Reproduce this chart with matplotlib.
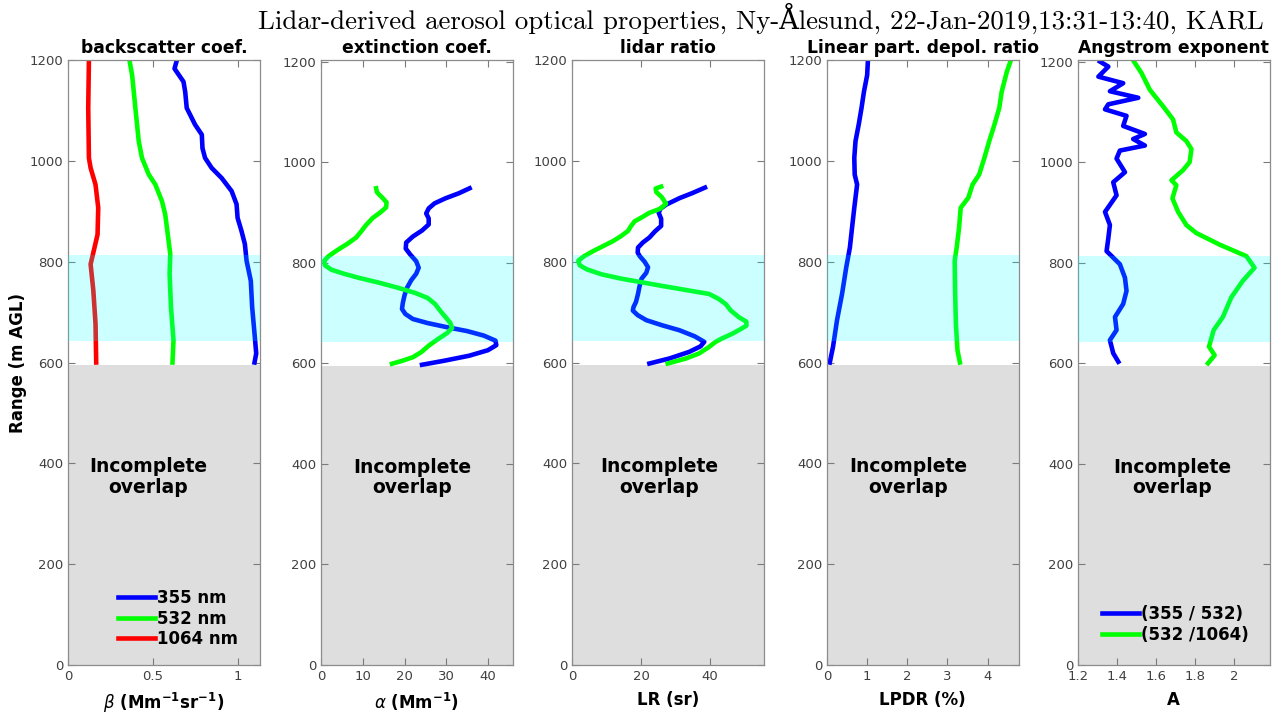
#!/usr/bin/env python3
"""Lidar profiles: backscatter, extinction, lidar ratio, depol, Angstrom."""
import matplotlib
matplotlib.use("Agg")
import matplotlib.pyplot as plt

# ---- backscatter coefficient (Mm-1 sr-1) vs range (m)
bsc_355_h = [1200, 1183, 1157, 1137, 1105, 1072, 1052, 1025, 1006, 986, 966, 940, 914, 887,
             861, 835, 802, 762, 710, 657, 618, 600]
bsc_355 = [0.642, 0.628, 0.681, 0.691, 0.70, 0.749, 0.789, 0.793, 0.808, 0.847, 0.906, 0.965,
           0.994, 1.0, 1.023, 1.043, 1.053, 1.078, 1.086, 1.10, 1.11, 1.10]
bsc_532_h = [1200, 1170, 1105, 1039, 1006, 973, 953, 920, 894, 868, 815, 776, 710, 644, 600]
bsc_532 = [0.362, 0.378, 0.397, 0.417, 0.436, 0.476, 0.515, 0.554, 0.573, 0.583, 0.603,
           0.599, 0.607, 0.622, 0.616]
bsc_1064_h = [1200, 1105, 1006, 986, 953, 907, 854, 815, 795, 743, 677, 600]
bsc_1064 = [0.123, 0.119, 0.123, 0.133, 0.162, 0.178, 0.174, 0.147, 0.133, 0.149, 0.162, 0.166]

# ---- extinction coefficient (Mm-1)
ext_355_h = [948, 938, 928, 918, 908, 898, 888, 876, 864, 852, 840, 828, 816, 803, 790, 778,
             765, 750, 735, 720, 708, 698, 688, 680, 672, 664, 655, 645, 636, 626, 615, 605, 597]
ext_355 = [35.6, 33.0, 29.8, 27.2, 25.8, 25.2, 25.8, 25.8, 24.2, 22.0, 20.4, 20.3, 21.4, 22.8,
           23.4, 22.8, 21.6, 20.6, 20.0, 19.6, 19.4, 20.2, 22.0, 25.5, 30.0, 35.0, 39.0, 41.8,
           42.0, 40.0, 35.5, 29.5, 24.2]
ext_532_h = [948, 940, 930, 920, 910, 900, 889, 875, 862, 850, 838, 825, 813, 804, 795, 786,
             778, 770, 760, 750, 740, 730, 718, 705, 690, 680, 670, 660, 648, 635, 622, 612,
             605, 599]
ext_532 = [13.2, 13.4, 14.6, 15.7, 15.6, 14.2, 12.4, 10.8, 9.6, 8.4, 6.4, 3.9, 1.8, 0.8, 0.9,
           2.5, 5.5, 9.0, 14.0, 18.5, 22.5, 25.5, 27.3, 28.5, 30.0, 31.0, 31.4, 30.2, 28.0,
           25.8, 24.0, 22.0, 19.5, 17.0]

# ---- lidar ratio (sr)
lr_355_h = [947, 936, 926, 913, 905, 897, 885, 871, 860, 848, 838, 828, 818, 811, 800, 789,
            778, 766, 750, 736, 720, 710, 703, 694, 684, 674, 664, 652, 641, 632, 621, 608, 598]
lr_355 = [38.5, 34.8, 31.1, 27.2, 25.6, 25.1, 25.8, 25.8, 24.0, 22.4, 20.5, 19.1, 19.0, 19.6,
          21.0, 22.0, 21.5, 20.1, 19.5, 19.1, 18.5, 17.8, 17.6, 19.0, 21.5, 26.0, 31.1, 35.5,
          38.3, 37.2, 33.9, 28.2, 22.4]
lr_532_h = [949, 945, 938, 928, 915, 905, 897, 888, 880, 870, 861, 850, 841, 831, 821, 811,
            802, 793, 785, 775, 766, 760, 752, 745, 736, 726, 716, 703, 690, 681, 673, 665,
            657, 648, 641, 630, 618, 608, 598]
lr_532 = [25.8, 24.2, 24.4, 26.0, 27.2, 25.5, 22.4, 20.2, 18.1, 17.0, 16.2, 14.0, 11.9, 9.0,
          6.1, 3.5, 1.8, 2.2, 4.2, 8.5, 14.5, 19.5, 26.0, 32.0, 39.7, 42.5, 44.5, 46.0, 48.3,
          50.5, 50.5, 48.5, 46.4, 43.5, 41.6, 39.5, 36.8, 33.0, 27.7]

# ---- linear particle depolarisation ratio (%)
lpdr_355_h = [1200, 1170, 1137, 1105, 1072, 1039, 1006, 973, 953, 907, 868, 828, 789, 736,
              684, 631, 600]
lpdr_355 = [1.02, 1.0, 0.92, 0.86, 0.79, 0.71, 0.68, 0.69, 0.75, 0.68, 0.625, 0.57, 0.48,
            0.375, 0.25, 0.15, 0.07]
lpdr_532_h = [1200, 1177, 1137, 1105, 1072, 1039, 1006, 973, 953, 927, 907, 868, 828, 802,
              743, 677, 624, 600]
lpdr_532 = [4.58, 4.48, 4.35, 4.29, 4.17, 4.04, 3.92, 3.79, 3.625, 3.52, 3.33, 3.29, 3.23,
            3.18, 3.19, 3.21, 3.25, 3.31]

# ---- Angstrom exponent
ae_355_532_h = [1200, 1190, 1170, 1157, 1141, 1128, 1115, 1105, 1092, 1072, 1056, 1046, 1033,
                1023, 1007, 980, 960, 934, 901, 875, 849, 823, 797, 770, 744, 718, 692, 666,
                646, 620, 603]
ae_355_532 = [1.312, 1.355, 1.304, 1.431, 1.363, 1.508, 1.355, 1.338, 1.448, 1.431, 1.542,
              1.482, 1.542, 1.414, 1.397, 1.440, 1.380, 1.397, 1.338, 1.363, 1.355, 1.346,
              1.414, 1.440, 1.448, 1.431, 1.389, 1.397, 1.363, 1.380, 1.406]
ae_532_1064_h = [1200, 1177, 1144, 1111, 1085, 1059, 1042, 1026, 1000, 984, 964, 954, 928, 901,
                 875, 859, 836, 813, 790, 764, 731, 692, 666, 633, 616, 600]
ae_532_1064 = [1.486, 1.525, 1.567, 1.635, 1.686, 1.703, 1.754, 1.780, 1.771, 1.737, 1.678,
               1.703, 1.683, 1.712, 1.754, 1.805, 1.924, 2.061, 2.103, 2.043, 1.984, 1.941,
               1.894, 1.870, 1.899, 1.865]

overlap_top = 595
band = (643, 813)

BLUE, GREEN, RED = "#0000ff", "#00ff00", "#ff0000"
LW = 3.3

fig = plt.figure(figsize=(12.77, 7.15), dpi=100)

panels = [
    dict(left=0.0533, title="backscatter coef.", xlim=(0, 1.13), ylim=(0, 1200),
         xticks=[0, 0.5, 1], xticklabels=["0", "0.5", "1"],
         xlabel=r"$\beta$ $\mathbf{(Mm^{-1}sr^{-1})}$",
         lines=[(bsc_355, bsc_355_h, BLUE, "355 nm"), (bsc_532, bsc_532_h, GREEN, "532 nm"),
                (bsc_1064, bsc_1064_h, RED, "1064 nm")],
         txt_x=0.42, leg=(0.26, 0.028)),
    dict(left=0.2514, title="extinction coef.", xlim=(0, 45.9), ylim=(8, 1203),
         xticks=[0, 10, 20, 30, 40], xticklabels=None, xlabel=r"$\alpha$ $\mathbf{(Mm^{-1})}$",
         lines=[(ext_355, ext_355_h, BLUE, None), (ext_532, ext_532_h, GREEN, None)],
         txt_x=0.475, leg=None),
    dict(left=0.448, title="lidar ratio", xlim=(0, 55.5), ylim=(0, 1200), xticks=[0, 20, 40],
         xticklabels=None, xlabel="LR (sr)",
         lines=[(lr_355, lr_355_h, BLUE, None), (lr_532, lr_532_h, GREEN, None)],
         txt_x=0.455, leg=None),
    dict(left=0.6476, title="Linear part. depol. ratio", xlim=(0, 4.77), ylim=(0, 1200),
         xticks=[0, 1, 2, 3, 4], xticklabels=None, xlabel="LPDR (%)",
         lines=[(lpdr_355, lpdr_355_h, BLUE, None), (lpdr_532, lpdr_532_h, GREEN, None)],
         txt_x=0.425, leg=None),
    dict(left=0.8442, title="Angstrom exponent", xlim=(1.2, 2.18), ylim=(8, 1203),
         xticks=[1.2, 1.4, 1.6, 1.8, 2.0], xticklabels=["1.2", "1.4", "1.6", "1.8", "2"],
         xlabel="A",
         lines=[(ae_355_532, ae_355_532_h, BLUE, "(355 / 532)"),
                (ae_532_1064, ae_532_1064_h, GREEN, "(532 /1064)")],
         txt_x=0.49, leg=(0.125, 0.035)),
]

for i, p in enumerate(panels):
    ax = fig.add_axes([p["left"], 0.070, 0.150, 0.846])
    ax.axhspan(0, overlap_top, color="#dedede", lw=0, zorder=0)
    for x, h, c, lab in p["lines"]:
        ax.plot(x, h, color=c, lw=LW, label=lab, zorder=2, solid_joinstyle="round")
    ax.axhspan(band[0], band[1], color="cyan", alpha=0.2, lw=0, zorder=3)
    ax.set_xlim(*p["xlim"])
    ax.set_ylim(*p["ylim"])
    ax.set_xticks(p["xticks"])
    if p["xticklabels"]:
        ax.set_xticklabels(p["xticklabels"])
    ax.set_yticks(range(0, 1201, 200))
    ax.tick_params(direction="in", top=True, right=True, length=5, width=0.8,
                   colors="#7a7a7a", labelcolor="#404040", labelsize=9.5)
    for s in ax.spines.values():
        s.set_color("#8c8c8c")
        s.set_linewidth(0.9)
    ax.set_title(p["title"], fontsize=12.3, fontweight="bold", pad=5)
    ax.set_xlabel(p["xlabel"], fontsize=12, fontweight="bold", labelpad=6)
    if i == 0:
        ax.set_ylabel("Range (m AGL)", fontsize=12, fontweight="bold", labelpad=2)
    ax.text(p["txt_x"], 373, "Incomplete\noverlap", transform=ax.get_yaxis_transform(),
            ha="center", va="center", fontsize=13.5, fontweight="bold",
            linespacing=1.1, zorder=5)
    if p["leg"]:
        ax.legend(loc="lower left", bbox_to_anchor=p["leg"], frameon=False,
                  prop=dict(size=12, weight="bold"), handlelength=2.2,
                  handletextpad=0.15, labelspacing=0.15, borderpad=0, borderaxespad=0)

fig.text(0.596, 0.974,
         "Lidar-derived aerosol optical properties, Ny-\u00c5lesund, 22-Jan-2019,13:31-13:40, KARL",
         ha="center", va="center", fontsize=19.4, family=["cmr10", "DejaVu Serif"])

fig.savefig("out.png", dpi=100)
